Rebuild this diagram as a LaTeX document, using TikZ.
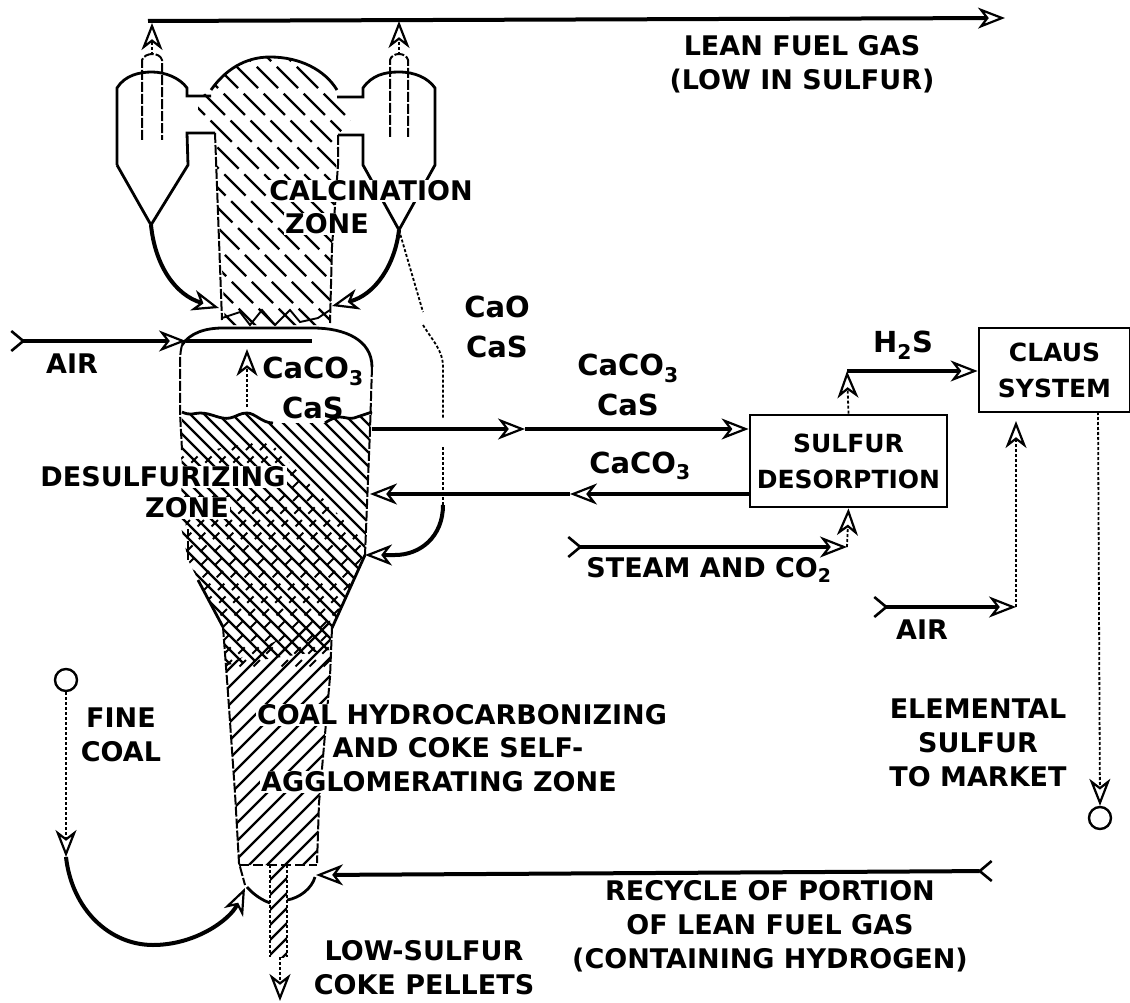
\documentclass[tikz,border=0pt]{standalone}
\usepackage{fontspec}
\setmainfont{DejaVu Sans}
\usetikzlibrary{arrows.meta,positioning,calc}
\tikzset{
  flowline/.style={line width=4pt},
  dotline/.style={line width=1.8pt, dash pattern=on 3pt off 2pt},
  wallline/.style={line width=2pt, dash pattern=on 10pt off 2pt},
  vesselline/.style={line width=2.8pt},
  hatchline/.style={line width=2.3pt},
  openhead/.tip={Stealth[open, length=27pt, width=21pt, inset=8pt, line width=2.2pt]},
  feather/.tip={Straight Barb[reversed, length=12pt, width=20pt, line width=2.6pt]},
  wordlabel/.style={font=\fontsize{27}{34}\selectfont\bfseries, align=center, inner sep=1pt},
  zonelabel/.style={wordlabel, fill=white},
  chemlabel/.style={font=\fontsize{29}{40}\selectfont\bfseries, align=center, inner sep=1pt},
  unitbox/.style={draw, line width=2.8pt, align=center, inner sep=0pt, font=\fontsize{25}{36}\selectfont\bfseries},
  endring/.style={draw, circle, line width=2.4pt, minimum size=22pt, inner sep=0pt}
}
\begin{document}
\begin{tikzpicture}[x=1pt, y=-1pt]
\useasboundingbox (0,0) rectangle (1130,1003);
% zone hatching
\begin{scope}
\clip (198,98) -- (211,90) .. controls (225,70) and (245,57) .. (270,57) .. controls (300,57) and (325,70) .. (337,90) -- (355,115) -- (338,135) -- (332,247) -- (330,325) -- (225,325) -- (215,133) -- (198,118) -- cycle;
\foreach \c in {-170,-150,...,320}
  \draw[hatchline, dash pattern=on 30pt off 8pt] ({\c+40},40) -- ({\c+400},400);
\end{scope}
\begin{scope}
\clip (182,412) .. controls (190,416) and (195,413) .. (200,413) .. controls (212,413) and (220,420) .. (230,418) .. controls (238,416) and (240,413) .. (247,413) .. controls (255,413) and (262,423) .. (273,423) -- (325,423) .. controls (332,418) and (337,417) .. (340,417) .. controls (345,417) and (350,420) .. (357,417) -- (372,412) -- (370,430) -- (365,555) -- (332,628) -- (330,650) -- (226,665) -- (223,627) -- (198,580) -- (188,560) -- (181,527) -- cycle;
\foreach \c in {-490,-476,...,-20}
  \draw[hatchline] ({\c+400},400) -- ({\c+700},700);
\end{scope}
\begin{scope}
\clip (181,455) -- (268,440) -- (367,545) -- (332,628) -- (330,670) -- (226,670) -- (223,627) -- (198,580) -- (188,560) -- cycle;
\foreach \c in {500,514,...,1000}
  \draw[line width=1.9pt, dash pattern=on 9pt off 9pt] ({\c-100},100) -- ({\c-800},800);
\end{scope}
\begin{scope}
\clip (226,665) -- (330,615) -- (330,677) -- (319,803) -- (317,865) -- (239,865) -- (235,793) -- cycle;
\foreach \c in {880,898,...,1200}
  \draw[hatchline] ({\c-100},100) -- ({\c-900},900);
\end{scope}
\begin{scope}
\clip (270,865) rectangle (287,957);
\foreach \c in {1120,1135,...,1260}
  \draw[hatchline] ({\c-800},800) -- ({\c-1000},1000);
\end{scope}
% cyclones and upper column
\draw[vesselline] (117,165) -- (117,88) .. controls (125,75) and (140,72) .. (152,72) .. controls (165,72) and (180,78) .. (187,88) -- (187,96) -- (211,96);
\draw[vesselline] (117,165) -- (151,225) -- (188,165) -- (187,133) -- (215,133);
\draw[wallline] (142,140) -- (142,60) .. controls (145,52) and (160,52) .. (162,60) -- (162,140);
\draw[vesselline] (211,90) .. controls (225,70) and (245,57) .. (270,57) .. controls (300,57) and (325,70) .. (337,90);
\draw[vesselline] (337,97) -- (363,97) -- (363,88) .. controls (372,75) and (385,72) .. (399,72) .. controls (415,72) and (428,78) .. (435,88) -- (435,165) -- (399,230) -- (363,165) -- (363,135) -- (338,135);
\draw[wallline] (390,137) -- (390,60) .. controls (392,52) and (406,52) .. (408,60) -- (408,137);
\draw[wallline] (215,133) -- (222,320);
\draw[wallline] (338,135) -- (338,165) -- (332,247) -- (330,323);
\draw[line width=1.9pt] (222,318) -- (240,312) -- (250,325) -- (262,310) -- (275,325) -- (290,310) -- (300,322) -- (318,318) -- (330,310);
% lower vessel
\draw[vesselline] (182,345) .. controls (190,333) and (205,328) .. (223,328) -- (313,328) .. controls (345,328) and (372,340) .. (372,367);
\draw[wallline] (182,345) .. controls (180,352) and (180,360) .. (180,367) -- (180,413) -- (182,450);
\draw[wallline] (372,367) -- (370,430) -- (365,555);
\draw[vesselline] (182,412) .. controls (190,416) and (195,413) .. (200,413) .. controls (212,413) and (220,420) .. (230,418) .. controls (238,416) and (240,413) .. (247,413) .. controls (255,413) and (262,423) .. (273,423);
\draw[vesselline] (325,423) .. controls (332,418) and (337,417) .. (340,417) .. controls (345,417) and (350,420) .. (357,417) -- (372,412);
\draw[wallline] (188,529) -- (188,560);
\draw[vesselline] (198,580) -- (223,627);
\draw[vesselline] (365,555) -- (332,628);
\draw[wallline] (223,627) -- (228,693) -- (235,793) -- (239,863) -- (245,885);
\draw[wallline] (332,628) -- (330,677) -- (319,803) -- (317,863);
\draw[line width=2.3pt, dash pattern=on 10pt off 4pt] (239,865) -- (317,865);
\draw[vesselline] (247,887) .. controls (254,895) and (262,900) .. (270,903);
\draw[vesselline] (287,900) .. controls (300,898) and (312,888) .. (315,877);
\draw[dotline] (270,865) -- (270,957);
\draw[dotline] (287,865) -- (287,957);
% process units
\node (desorption) [unitbox, minimum width=197pt, minimum height=92pt] at (848.5,461) {SULFUR\\DESORPTION};
\node (claus) [unitbox, minimum width=151pt, minimum height=84pt] at (1054.5,370) {CLAUS\\SYSTEM};
\node (coalring) [endring] at (66,680) {};
\node (marketring) [endring] at (1100,818) {};
% connector ends
\coordinate (fuelcorner) at (148,21);
\coordinate (fuelend) at (1005,18);
\coordinate (leftpipe) at (152,55);
\coordinate (leftjoin) at (152,23);
\coordinate (rightpipe) at (399,55);
\coordinate (rightjoin) at (399,21);
\coordinate (leftapex) at (151,225);
\coordinate (leftinlet) at (219,308);
\coordinate (rightapex) at (399,230);
\coordinate (rightinlet) at (332,306);
\coordinate (breakone) at (423,312);
\coordinate (breaktwo) at (423,325);
\coordinate (breakthree) at (443,418);
\coordinate (breakfour) at (443,447);
\coordinate (returntop) at (443,505);
\coordinate (returninlet) at (365,555);
\coordinate (airstart) at (10,341);
\coordinate (airmid) at (186,341);
\coordinate (airend) at (312,341);
\coordinate (liftstart) at (247,407);
\coordinate (lifttip) at (247,349);
\coordinate (solidsout) at (372,429);
\coordinate (solidsmid) at (525,429);
\coordinate (solidsin) at ($(desorption.west)+(0,-32)$);
\coordinate (backout) at ($(desorption.west)+(0,33)$);
\coordinate (backmid) at (570,494);
\coordinate (backin) at (370,494);
\coordinate (gascorner) at (847,371);
\coordinate (steamstart) at (567,547);
\coordinate (steamcorner) at (847,547);
\coordinate (airtwostart) at (873,607);
\coordinate (airtwocorner) at (1016,607);
\coordinate (airtwotip) at (1016,421);
\coordinate (clausdrop) at (1098,412);
\coordinate (coalbend) at (66,857);
\coordinate (coalinlet) at (245,888);
\coordinate (recycleright) at (993,871);
\coordinate (recycleleft) at (316,875);
\coordinate (pelletstart) at (280,957);
\coordinate (pelletend) at (280,1001);
% connectors
\draw[flowline, -{openhead}] (fuelcorner) -- (fuelend);
\draw[dotline, -{openhead}] (leftpipe) -- (leftjoin);
\draw[dotline, -{openhead}] (rightpipe) -- (rightjoin);
\draw[flowline, -{openhead}] (leftapex) .. controls (155,265) and (175,295) .. (leftinlet);
\draw[flowline, -{openhead}] (rightapex) .. controls (395,265) and (375,295) .. (rightinlet);
\draw[dotline] (rightapex) -- (breakone);
\draw[dotline] (breaktwo) .. controls (432,340) and (443,350) .. (443,367) -- (breakthree);
\draw[dotline] (breakfour) -- (returntop);
\draw[flowline, -{openhead}] (returntop) .. controls (443,537) and (420,555) .. (395,555) -- (returninlet);
\draw[flowline, {feather}-{openhead}] (airstart) -- (airmid);
\draw[flowline] (airmid) -- (airend);
\draw[dotline, -{openhead}] (liftstart) -- (lifttip);
\draw[flowline, -{openhead}] (solidsout) -- (solidsmid);
\draw[flowline, -{openhead}] (solidsmid) -- (solidsin);
\draw[flowline, -{openhead}] (backout) -- (backmid);
\draw[flowline, -{openhead}] (backmid) -- (backin);
\draw[dotline, -{openhead}] (desorption.north) -- (gascorner);
\draw[flowline, -{openhead}] (gascorner) -- (claus.west |- gascorner);
\draw[flowline, {feather}-{openhead}] (steamstart) -- (steamcorner);
\draw[dotline, -{openhead}] (steamcorner) -- (desorption.south);
\draw[flowline, {feather}-{openhead}] (airtwostart) -- (airtwocorner);
\draw[dotline, -{openhead}] (airtwocorner) -- (airtwotip);
\draw[dotline, -{openhead}] (clausdrop) -- (marketring.north);
\draw[dotline, -{openhead}] (coalring) -- (coalbend);
\draw[flowline, -{openhead}] (coalbend) .. controls (72,910) and (110,945) .. (153,945) .. controls (195,945) and (230,920) .. (coalinlet);
\draw[flowline, {feather}-{openhead}] (recycleright) -- (recycleleft);
\draw[dotline, -{openhead}] (pelletstart) -- (pelletend);
% lettering
\node (leanlabel) [wordlabel] at (802,64) {LEAN FUEL GAS\\(LOW IN SULFUR)};
\node (calcination) [zonelabel] at (371,191) {CALCINATION};
\node (calcinationzone) [zonelabel] at (327,224) {ZONE};
\node (caolabel) [chemlabel] at (497,327) {CaO\\CaS};
\node (airlabel) [wordlabel] at (72,364) {AIR};
\node (feedlabel) [chemlabel] at (313,388) {CaCO\textsubscript{3}\\CaS};
\node (solidslabel) [chemlabel] at (628,385) {CaCO\textsubscript{3}\\CaS};
\node (backlabel) [chemlabel] at (640,466) {CaCO\textsubscript{3}};
\node (hydrogenlabel) [chemlabel] at (903,345) {H\textsubscript{2}S};
\node (desulfurizing) [zonelabel] at (163,477) {DESULFURIZING};
\node (desulfurzone) [zonelabel] at (187,508) {ZONE};
\node (steamlabel) [wordlabel] at (709,570) {STEAM AND CO\textsubscript{2}};
\node (airtwolabel) [wordlabel] at (922,630) {AIR};
\node (finelabel) [wordlabel] at (121,735) {FINE\\COAL};
\node (coallabel) [zonelabel] at (462,715) {COAL HYDROCARBONIZING};
\node (cokelabel) [zonelabel] at (458,748) {AND COKE SELF-};
\node (agglolabel) [zonelabel] at (439,782) {AGGLOMERATING ZONE};
\node (marketlabel) [wordlabel] at (978,743) {ELEMENTAL\\SULFUR\\TO MARKET};
\node (recyclelabel) [wordlabel] at (770,926) {RECYCLE OF PORTION\\OF LEAN FUEL GAS\\(CONTAINING HYDROGEN)};
\node (pelletlabel) [wordlabel] at (424,968) {LOW-SULFUR\\COKE PELLETS};
\end{tikzpicture}
\end{document}
